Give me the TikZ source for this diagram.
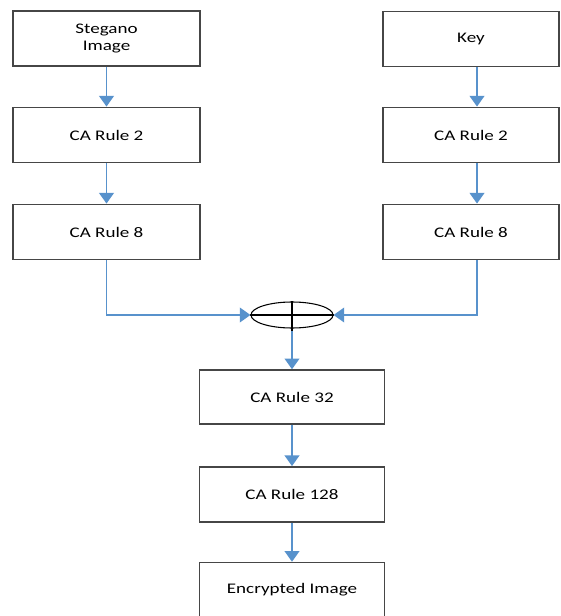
\documentclass[tikz,border=0pt]{standalone}
\usepackage{fontspec}
\usepackage{xcolor}
\usetikzlibrary{arrows.meta,shapes.geometric}
\newfontfamily\boxfont[FakeStretch=1.3]{Carlito}
\definecolor{flowblue}{RGB}{88,146,204}
\definecolor{boxgray}{RGB}{70,70,70}
\tikzset{
  rulebox/.style={draw=boxgray, line width=1.1pt, fill=white, minimum width=140pt, minimum height=41.5pt, align=center, font=\boxfont\fontsize{11}{12.5}\selectfont, inner sep=0pt},
  flow/.style={flowblue, line width=1.3pt, -{Triangle[width=11pt,length=8pt]}}
}
\begin{document}
\begin{tikzpicture}[x=0.75pt,y=-0.75pt]
\useasboundingbox (0,0) rectangle (560,616);
% left branch
\node[rulebox] (img) at (106.5,38.5) {Stegano\\Image};
\node[rulebox] (imgtwo) at (106.5,135) {CA Rule 2};
\node[rulebox] (imgeight) at (106.5,232) {CA Rule 8};
% right branch
\node[rulebox, minimum width=132pt] (key) at (471,39) {Key};
\node[rulebox, minimum width=132pt] (keytwo) at (471,135) {CA Rule 2};
\node[rulebox, minimum width=132pt] (keyeight) at (471,232) {CA Rule 8};
% xor
\node[ellipse, draw=black, line width=0.8pt, minimum width=61.5pt, minimum height=19.5pt, inner sep=0pt] (xor) at (292,315) {};
\draw[black, line width=0.8pt] (xor.west) -- (xor.east);
\draw[black, line width=0.8pt] (xor.north) -- ([yshift=-2pt]xor.south);
% output chain
\node[rulebox, minimum width=138.5pt, minimum height=40.5pt] (rulethirtytwo) at (292,397) {CA Rule 32};
\node[rulebox, minimum width=138.5pt] (ruleonetwentyeight) at (292,494.5) {CA Rule 128};
\node[rulebox, minimum width=138.5pt, minimum height=40.5pt] (enc) at (292,589.5) {Encrypted Image};

\draw[flow] (img) -- (imgtwo);
\draw[flow] (imgtwo) -- (imgeight);
\draw[flow] ([xshift=4.5pt]key.south) -- ([xshift=4.5pt]keytwo.north);
\draw[flow] ([xshift=4.5pt]keytwo.south) -- ([xshift=4.5pt]keyeight.north);
\draw[flow] (imgeight.south) |- (xor.west);
\draw[flow] ([xshift=4.5pt]keyeight.south) |- (xor.east);
\draw[flow] ([yshift=-2pt]xor.south) -- (rulethirtytwo.north);
\draw[flow] (rulethirtytwo) -- (ruleonetwentyeight);
\draw[flow] (ruleonetwentyeight) -- (enc);
\end{tikzpicture}
\end{document}
